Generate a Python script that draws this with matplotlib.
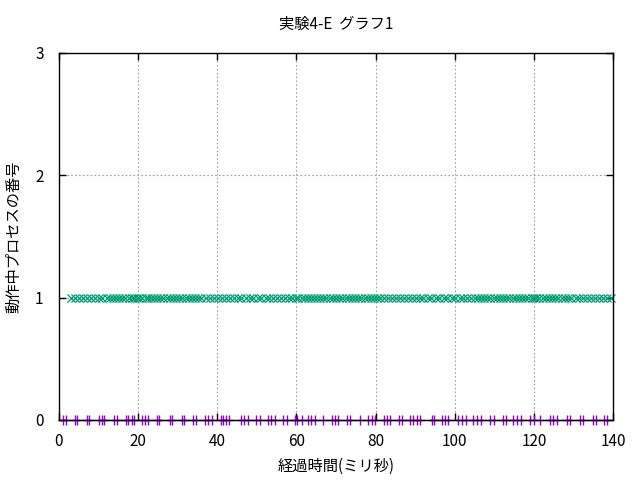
import matplotlib
matplotlib.use("Agg")
import matplotlib.pyplot as plt

plt.rcParams['font.family'] = ['Noto Sans CJK JP', 'DejaVu Sans']
plt.rcParams['font.size'] = 10

TITLE = "実験4-E  グラフ1"
XLABEL = "経過時間(ミリ秒)"
YLABEL = "動作中プロセスの番号"

x_ticks = [0, 20, 40, 60, 80, 100, 120, 140]
y_ticks = [0, 1, 2, 3]

# process 0 (purple +)
t_proc0 = [1.1, 1.8, 4.0, 4.7, 7.0, 7.7, 10.2, 10.8, 11.5, 14.0, 14.7, 16.9, 17.5,
           18.4, 19.0, 21.1, 21.7, 22.6, 24.7, 25.3, 28.0, 28.7, 31.0, 31.7, 33.9,
           34.6, 36.9, 37.6, 38.6, 40.9, 41.5, 42.2, 43.0, 46.0, 46.8, 47.7, 49.9,
           50.8, 52.9, 53.7, 54.6, 56.7, 57.5, 59.6, 60.1, 61.3, 63.0, 63.7, 64.7,
           66.8, 68.9, 69.7, 70.6, 72.7, 73.5, 76.1, 78.2, 79.0, 79.9, 82.0, 82.8,
           83.6, 85.9, 86.6, 88.7, 89.5, 90.4, 91.2, 94.2, 94.8, 96.8, 97.5, 98.4,
           100.9, 101.8, 102.9, 104.7, 105.6, 106.6, 108.9, 109.8, 112.1, 113.0,
           114.8, 115.7, 116.7, 119.0, 120.0, 121.6, 124.1, 124.9, 125.8, 128.3,
           129.1, 131.7, 132.5, 134.9, 135.7, 137.6, 138.4]

# process 1 (green x)
t_proc1 = [3.0, 4.1, 5.0, 6.2, 7.1, 8.0, 9.1, 10.2, 11.0, 12.1, 13.0, 13.7, 14.5,
           15.3, 16.0, 16.8, 17.6, 18.4, 19.1, 19.7, 20.3, 21.1, 21.9, 22.6, 23.3,
           24.0, 24.8, 25.6, 26.4, 27.2, 28.0, 28.8, 29.6, 30.4, 31.2, 32.0, 32.8,
           33.6, 34.4, 35.2, 36.0, 37.1, 38.2, 39.2, 40.1, 41.2, 42.2, 43.1, 44.2,
           45.2, 46.1, 47.2, 48.2, 49.1, 50.2, 51.1, 52.2, 53.1, 54.2, 55.1, 56.2,
           57.1, 58.1, 59.0, 59.8, 60.5, 61.3, 62.1, 62.9, 63.6, 64.4, 65.2, 66.0,
           66.8, 67.6, 68.4, 69.2, 70.0, 70.8, 71.6, 72.4, 73.2, 74.0, 74.8, 75.6,
           76.4, 77.2, 78.0, 78.8, 79.6, 80.4, 81.0, 82.1, 83.2, 84.1, 85.2, 86.1,
           87.2, 88.1, 89.2, 90.1, 91.2, 92.1, 93.2, 94.1, 95.2, 96.1, 97.2, 98.1,
           99.2, 100.1, 101.2, 102.1, 103.2, 104.2, 105.0, 105.8, 106.6, 107.4,
           108.2, 109.0, 109.8, 110.6, 111.4, 112.2, 113.0, 113.8, 114.6, 115.4,
           116.2, 117.0, 117.8, 118.6, 119.4, 120.0, 120.6, 121.4, 122.2, 123.0,
           123.8, 124.6, 125.4, 126.2, 127.0, 127.8, 128.6, 129.4, 130.5, 131.4,
           132.5, 133.4, 134.5, 135.4, 136.5, 137.4, 138.5, 139.4]

fig = plt.figure(figsize=(6.4, 4.8), dpi=100)
ax = fig.add_axes([0.092, 0.125, 0.866, 0.765])

ax.plot(t_proc0, [0] * len(t_proc0), linestyle='none', marker='+',
        color='#9400d3', markersize=7, markeredgewidth=1, clip_on=False)
ax.plot(t_proc1, [1] * len(t_proc1), linestyle='none', marker='x',
        color='#009e73', markersize=5.5, markeredgewidth=0.9, clip_on=False)

ax.set_xlim(0, 140)
ax.set_ylim(0, 3)
ax.set_xticks(x_ticks)
ax.set_yticks(y_ticks)
ax.tick_params(axis='both', direction='in', length=5, width=1, top=True, right=True,
               labelsize=11)
ax.tick_params(axis='x', pad=9)
ax.tick_params(axis='y', pad=11)
ax.grid(True, color='#a0a0a0', linestyle=(0, (1.5, 2)), linewidth=0.8)
for s in ax.spines.values():
    s.set_linewidth(1)

ax.set_title(TITLE, fontsize=11, pad=17)
ax.set_xlabel(XLABEL, fontsize=11, labelpad=6)
ax.set_ylabel(YLABEL, fontsize=11, labelpad=9)

fig.savefig("out.png", dpi=100)
